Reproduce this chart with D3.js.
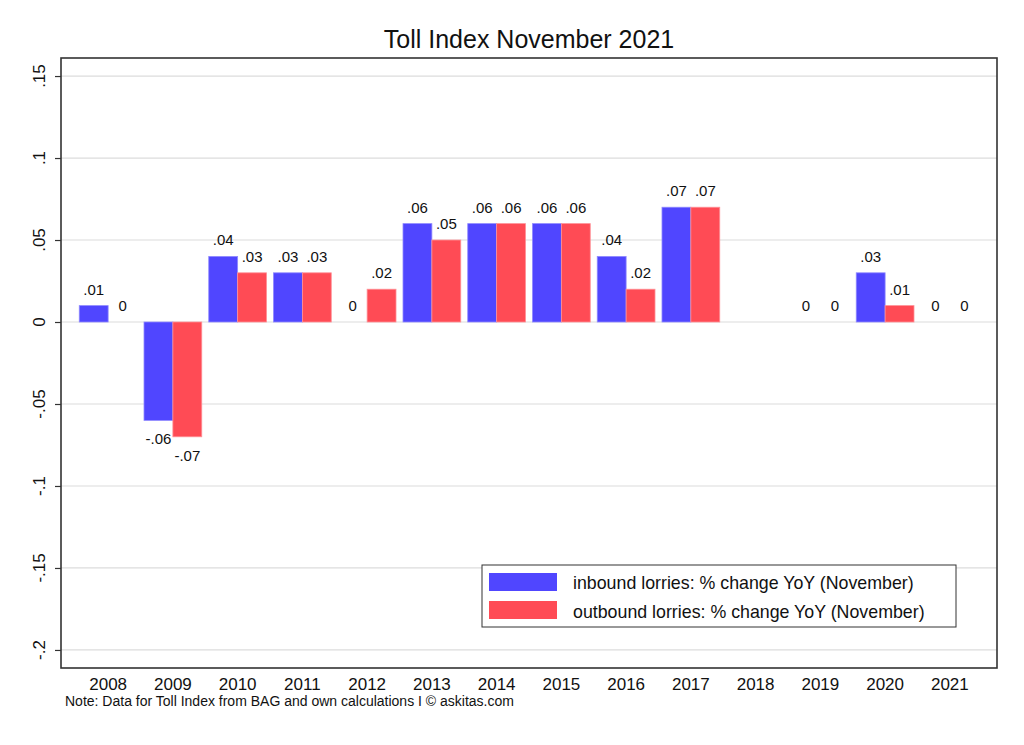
<!DOCTYPE html>
<html>
<head>
<meta charset="utf-8">
<script src="https://cdn.jsdelivr.net/npm/d3@7"></script>
<style>
  body { margin: 0; background: #fff; }
  text { font-family: "Liberation Sans", Arial, Helvetica, sans-serif; fill: #111; }
</style>
</head>
<body>
<script>
// data
var years = ["2008","2009","2010","2011","2012","2013","2014","2015","2016","2017","2018","2019","2020","2021"];
var inbound = [0.01, -0.06, 0.04, 0.03, 0, 0.06, 0.06, 0.06, 0.04, 0.07, null, 0, 0.03, 0];
var outbound = [0, -0.07, 0.03, 0.03, 0.02, 0.05, 0.06, 0.06, 0.02, 0.07, null, 0, 0.01, 0];
var yTicks = [0.15, 0.1, 0.05, 0, -0.05, -0.1, -0.15, -0.2];
var seriesNames = ["inbound lorries: % change YoY (November)", "outbound lorries: % change YoY (November)"];
var colors = ["#5046ff", "#ff4b55"];

var W = 1024, H = 745;
// plot box (window.top is read only, so own names)
var pL = 61, pR = 997, pT = 58, pB = 668;

var svg = d3.select("body").append("svg")
  .attr("width", W)
  .attr("height", H);

// stata style number: drop leading zero
var fmt = function(v) {
  if (v == 0) return "0";
  var s = String(+v.toFixed(3));
  return s.replace(/^(-?)0\./, "$1.");
}

var y = d3.scaleLinear()
  .domain([-0.211, 0.161])
  .range([pB, pT]);

var x = d3.scaleBand()
  .domain(years)
  .range([pL, pR])
  .paddingInner(0)
  .paddingOuter(0.228);

var x1 = d3.scaleBand()
  .domain([0, 1])
  .range([0, x.bandwidth()])
  .paddingOuter(0.121);

// grid
svg.append("g").selectAll("line")
  .data(yTicks)
  .enter().append("line")
  .attr("x1", pL).attr("x2", pR)
  .attr("y1", function(d) { return y(d); })
  .attr("y2", function(d) { return y(d); })
  .attr("stroke", "#dcdcdc")
  .attr("stroke-width", 1.2);

// bars
var rows = [];
for (var i = 0; i < years.length; i++) {
  [inbound[i], outbound[i]].forEach(function(v, k) {
    if (v !== null) rows.push({ year: years[i], s: k, v: v });
  });
}

var bars = svg.append("g");
bars.selectAll("rect")
  .data(rows.filter(function(d) { return d.v != 0; }))
  .enter().append("rect")
  .attr("x", function(d) { return x(d.year) + x1(d.s); })
  .attr("width", x1.bandwidth())
  .attr("y", function(d) { return y(Math.max(0, d.v)); })
  .attr("height", function(d) { return Math.abs(y(d.v) - y(0)); })
  .attr("fill", function(d) { return colors[d.s]; })
  .attr("stroke", function(d) { return d.s == 0 ? "#8f89ff" : "#ff9096"; })
  .attr("stroke-width", 0.8);

bars.selectAll("text")
  .data(rows)
  .enter().append("text")
  .attr("x", function(d) { return x(d.year) + x1(d.s) + x1.bandwidth() / 2; })
  .attr("y", function(d) { return d.v < 0 ? y(d.v) + 24 : y(d.v) - 11; })
  .attr("text-anchor", "middle")
  .attr("font-size", 15)
  .text(function(d) { return fmt(d.v); });

// axes
var yAxis = svg.append("g")
  .attr("transform", "translate(" + pL + ",0)")
  .call(d3.axisLeft(y).tickValues(yTicks).tickSize(6).tickPadding(0).tickFormat(function() { return ""; }));
yAxis.select(".domain").remove();
yAxis.selectAll("line").attr("stroke", "#333").attr("stroke-width", 1.2);

svg.append("g").selectAll("text")
  .data(yTicks)
  .enter().append("text")
  .attr("transform", function(d) { return "translate(45," + y(d) + ") rotate(-90)"; })
  .attr("text-anchor", "middle")
  .attr("font-size", 17)
  .text(fmt);

var xAxis = svg.append("g")
  .attr("transform", "translate(0," + pB + ")")
  .call(d3.axisBottom(x).tickSize(0).tickPadding(0));
xAxis.select(".domain").remove();
xAxis.selectAll("text")
  .attr("y", 22)
  .attr("dy", 0)
  .attr("font-size", 17)
  .attr("font-family", "Liberation Sans, Arial, sans-serif")
  .attr("fill", "#111");

// plot frame
svg.append("rect")
  .attr("x", pL).attr("y", pT)
  .attr("width", pR - pL).attr("height", pB - pT)
  .attr("fill", "none")
  .attr("stroke", "#333")
  .attr("stroke-width", 1.6);

// title
svg.append("text")
  .attr("x", (pL + pR) / 2)
  .attr("y", 48)
  .attr("text-anchor", "middle")
  .attr("font-size", 25)
  .text("Toll Index November 2021");

// legend
var lg = svg.append("g");
lg.append("rect")
  .attr("x", 482).attr("y", 565)
  .attr("width", 474).attr("height", 62)
  .attr("fill", "#fff")
  .attr("stroke", "#333")
  .attr("stroke-width", 1);
seriesNames.forEach(function(name, k) {
  lg.append("rect")
    .attr("x", 489).attr("y", 573 + k * 28)
    .attr("width", 68).attr("height", 18)
    .attr("fill", colors[k]);
  lg.append("text")
    .attr("x", 573).attr("y", 589 + k * 29)
    .attr("font-size", 17.8)
    .text(name);
});

// note
svg.append("text")
  .attr("x", 65)
  .attr("y", 706)
  .attr("font-size", 14)
  .text("Note: Data for Toll Index from BAG and own calculations I \u00a9 askitas.com");
</script>
</body>
</html>
